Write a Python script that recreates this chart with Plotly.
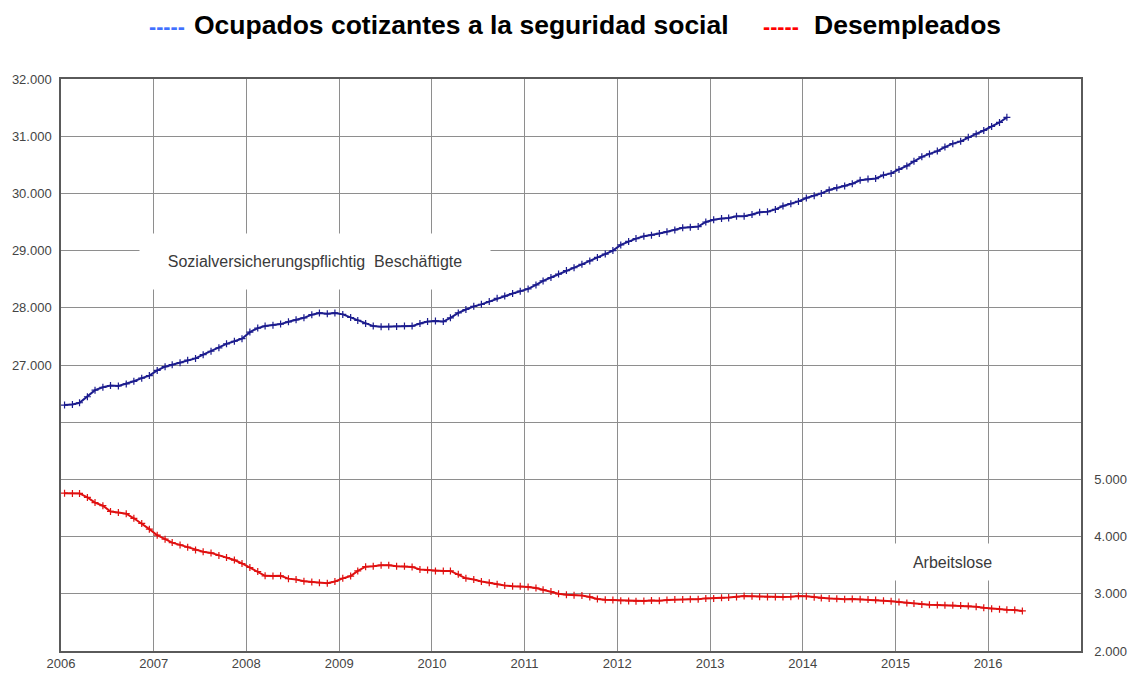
import pandas as pd
import plotly.graph_objects as go

# ---------------- data (thousands, seasonally adjusted, monthly) ----------------
start_month = "2006-01"

beschaeftigte = [
    # 2006
    26300, 26310, 26340, 26445, 26560, 26610, 26640, 26635, 26670, 26715, 26770, 26815,
    # 2007
    26905, 26970, 27005, 27040, 27085, 27115, 27180, 27240, 27300, 27370, 27415, 27460,
    # 2008
    27575, 27645, 27680, 27695, 27715, 27755, 27790, 27825, 27880, 27910, 27895, 27910,
    # 2009
    27885, 27830, 27780, 27725, 27680, 27670, 27670, 27675, 27680, 27680, 27725, 27760,
    # 2010
    27770, 27760, 27825, 27910, 27970, 28025, 28060, 28110, 28165, 28205, 28250, 28290,
    # 2011
    28330, 28400, 28470, 28530, 28590, 28650, 28700, 28760, 28820, 28880, 28940, 29000,
    # 2012
    29100, 29160, 29210, 29250, 29270, 29300, 29330, 29360, 29400, 29410, 29420, 29500,
    # 2013
    29540, 29560, 29570, 29600, 29600, 29630, 29670, 29680, 29720, 29780, 29820, 29860,
    # 2014
    29920, 29960, 30000, 30060, 30100, 30130, 30170, 30230, 30250, 30260, 30320, 30350,
    # 2015
    30420, 30480, 30560, 30640, 30690, 30740, 30810, 30870, 30910, 30980, 31040, 31100,
    # 2016
    31170, 31240, 31330,
]

arbeitslose = [
    # 2006
    4760, 4755, 4755, 4685, 4595, 4540, 4440, 4420, 4400, 4320, 4230, 4130,
    # 2007
    4025, 3955, 3895, 3855, 3815, 3765, 3735, 3715, 3670, 3635, 3590, 3530,
    # 2008
    3460, 3390, 3315, 3310, 3315, 3265, 3250, 3220, 3205, 3195, 3185, 3215,
    # 2009
    3270, 3310, 3400, 3475, 3480, 3500, 3500, 3480, 3480, 3470, 3425, 3415,
    # 2010
    3400, 3400, 3400, 3340, 3270, 3250, 3215, 3195, 3165, 3145, 3130, 3130,
    # 2011
    3120, 3100, 3070, 3040, 3000, 2985, 2975, 2970, 2945, 2910, 2895, 2890,
    # 2012
    2880, 2875, 2870, 2875, 2885, 2880, 2890, 2900, 2900, 2905, 2905, 2920,
    # 2013
    2920, 2930, 2935, 2945, 2960, 2955, 2950, 2945, 2945, 2945, 2950, 2960,
    # 2014
    2955, 2940, 2925, 2920, 2915, 2905, 2910, 2905, 2900, 2890, 2880, 2870,
    # 2015
    2855, 2840, 2830, 2815, 2810, 2805, 2800, 2800, 2795, 2785, 2775, 2755,
    # 2016
    2740, 2730, 2720, 2715, 2700,
]

left_tickvals = [22000, 23000, 24000, 25000, 26000, 27000, 28000, 29000, 30000, 31000, 32000]
left_ticktext = ["", "", "", "", "", "27.000", "28.000", "29.000", "30.000", "31.000", "32.000"]
right_tickvals = [2000, 3000, 4000, 5000]
right_ticktext = ["2.000", "3.000", "4.000", "5.000"]
year_ticks = [str(y) for y in range(2006, 2017)]

title_left = "Ocupados cotizantes a la seguridad social"
title_right = "Desempleados"
label_svb = "Sozialversicherungspflichtig&nbsp;&nbsp;Beschäftigte"
label_alo = "Arbeitslose"

# monthly dates, plotted mid-month
dates_b = pd.date_range(start_month, periods=len(beschaeftigte), freq="MS") + pd.Timedelta(days=14)
dates_a = pd.date_range(start_month, periods=len(arbeitslose), freq="MS") + pd.Timedelta(days=14)

fig = go.Figure()
fig.add_trace(go.Scatter(
    x=dates_b, y=beschaeftigte, mode="lines+markers", yaxis="y",
    line=dict(color="#1c1c8e", width=2),
    marker=dict(symbol="cross-thin-open", size=5, line=dict(color="#6b6bd0", width=1.2)),
    showlegend=False,
))
fig.add_trace(go.Scatter(
    x=dates_a, y=arbeitslose, mode="lines+markers", yaxis="y2",
    line=dict(color="#e01010", width=2),
    marker=dict(symbol="cross-thin-open", size=5, line=dict(color="#ff6a30", width=1.2)),
    showlegend=False,
))

grid = "#8e8e8e"
frame = "#5a5a5a"
tickfont = dict(family="Arial, Liberation Sans, sans-serif", size=13, color="#444444")

fig.update_layout(
    width=1131, height=675,
    margin=dict(l=61, r=50, t=79, b=24, autoexpand=False),
    paper_bgcolor="white", plot_bgcolor="white",
    separators=",.",
    xaxis=dict(
        type="date", range=["2006-01-01", "2017-01-01"], automargin=False,
        tickvals=[f"{y}-01-01" for y in year_ticks], ticktext=year_ticks,
        showgrid=True, gridcolor=grid, gridwidth=1.2,
        showline=True, linecolor=frame, linewidth=1.5, mirror=True,
        ticks="", tickfont=tickfont, zeroline=False,
    ),
    yaxis=dict(
        range=[22000, 32000], tickvals=left_tickvals, ticktext=left_ticktext, automargin=False,
        showgrid=True, gridcolor=grid, gridwidth=1.2,
        showline=True, linecolor=frame, linewidth=1.5, mirror=True,
        ticks="", tickfont=tickfont, zeroline=False, ticklabelstandoff=5,
    ),
    yaxis2=dict(
        range=[2000, 12000], tickvals=right_tickvals, ticktext=right_ticktext, automargin=False,
        overlaying="y", side="right", showgrid=False,
        showline=True, linecolor=frame, linewidth=1.5,
        ticks="", tickfont=tickfont, zeroline=False, ticklabelstandoff=9,
    ),
)

title_font = dict(family="Arial, Liberation Sans, sans-serif", size=26.5, color="black")
dash_font = dict(family="Arial, Liberation Sans, sans-serif", size=21.5)
ty = (651 - 25) / 572
dy = (651 - 27) / 572
fig.add_annotation(
    xref="paper", yref="paper", x=(147 - 61) / 1020, y=dy,
    xanchor="left", yanchor="middle", showarrow=False,
    text="<b>-----</b>", font=dict(dash_font, color="#4070ff"),
)
fig.add_annotation(
    xref="paper", yref="paper", x=(192 - 61) / 1020, y=ty,
    xanchor="left", yanchor="middle", showarrow=False,
    text=f"<b>{title_left}</b>", font=title_font,
)
fig.add_annotation(
    xref="paper", yref="paper", x=(761 - 61) / 1020, y=dy,
    xanchor="left", yanchor="middle", showarrow=False,
    text="<b>-----</b>", font=dict(dash_font, color="#ff0000"),
)
fig.add_annotation(
    xref="paper", yref="paper", x=(812 - 61) / 1020, y=ty,
    xanchor="left", yanchor="middle", showarrow=False,
    text=f"<b>{title_right}</b>", font=title_font,
)

label_font = dict(family="Arial, Liberation Sans, sans-serif", size=16, color="#3a3a3a")
fig.add_annotation(
    xref="paper", yref="paper", x=(315 - 61) / 1020, y=(651 - 261) / 572,
    xanchor="center", yanchor="middle", showarrow=False,
    text=label_svb, font=label_font, bgcolor="white", borderpad=0,
    width=350, height=55, align="center", valign="middle",
)
fig.add_annotation(
    xref="paper", yref="paper", x=(952 - 61) / 1020, y=(651 - 562) / 572,
    xanchor="center", yanchor="middle", showarrow=False,
    text=label_alo, font=label_font, bgcolor="white", borderpad=0,
    width=135, height=36, align="center", valign="middle",
)

fig.write_html(
    "out.html",
    config={"displayModeBar": False},
    post_script="document.body.style.margin='0';document.body.style.overflow='hidden';",
)
